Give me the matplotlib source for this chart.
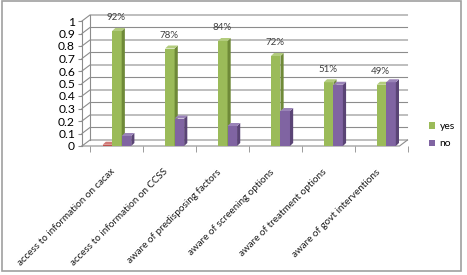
import matplotlib
matplotlib.use("Agg")
import matplotlib.pyplot as plt
from matplotlib.patches import Polygon, Rectangle
import numpy as np

categories = ["access to information on cacax", "access to information on CCSS",
              "aware of predisposing factors", "aware of screening options",
              "aware of treatment options", "aware of govt interventions"]
yes_vals = [0.92, 0.78, 0.84, 0.72, 0.51, 0.49]
no_vals = [0.08, 0.22, 0.16, 0.28, 0.49, 0.51]
other_vals = [0.01, 0, 0, 0, 0, 0]
yes_labels = ["92%", "78%", "84%", "72%", "51%", "49%"]

plt.rcParams['font.family'] = ['Lato', 'DejaVu Sans']

fig = plt.figure(figsize=(4.67, 2.75), dpi=100)
fig.patches.append(Rectangle((0.004, 0.015), 0.984, 0.98, transform=fig.transFigure,
                             fill=False, edgecolor='#a0a0a0', linewidth=1.2))
ax = fig.add_axes([82/467, 1-146/275, (408-82)/467, (146-14.75)/275])

x0, x1 = -0.66, 5.49
fx1 = 5.34
ddx, ddy = 0.15, 0.048
ax.set_xlim(x0, x1)
ax.set_ylim(0, 1.05)
for s in ax.spines.values():
    s.set_visible(False)

grid_c = '#8c8c8c'
ticks = np.round(np.arange(0, 1.01, 0.1), 1)
for v in ticks:
    ax.plot([x0, x0 + ddx, x1], [v, v + ddy, v + ddy], color=grid_c, lw=0.8,
            clip_on=False, zorder=1)
ax.plot([x0, x0], [0, 1], color=grid_c, lw=0.8, clip_on=False, zorder=1)
ax.plot([x0 + ddx, x0 + ddx], [ddy, 1 + ddy], color=grid_c, lw=0.8, clip_on=False, zorder=1)
ax.plot([x0, fx1, x1], [0, 0, ddy], color=grid_c, lw=0.8, clip_on=False, zorder=1)

ax.set_yticks(ticks)
ax.set_yticklabels([("%g" % t) for t in ticks], fontsize=8.7)
ax.tick_params(axis='y', length=3, color=grid_c, pad=2)

x = np.arange(len(categories))
ax.set_xticks(x)
ax.set_xticklabels([])
ax.tick_params(axis='x', length=0)
ax.set_xticks(np.arange(-0.5, len(categories)), minor=True)
ax.tick_params(axis='x', which='minor', length=4, color=grid_c)
for xi, lab in zip(x, categories):
    ax.text(xi - 0.12, -0.17, lab, rotation=45, ha='right', va='top',
            rotation_mode='anchor', fontsize=7.1, color='#1a1a1a')

w = 0.18
dx, dy = 0.06, 0.024

def bar3d(xc, h, face, side, top):
    ax.bar(xc, h, width=w, color=face, edgecolor='none', zorder=3)
    xl, xr = xc - w / 2, xc + w / 2
    ax.add_patch(Polygon([(xr, 0), (xr + dx, dy), (xr + dx, h + dy), (xr, h)],
                         closed=True, facecolor=side, edgecolor='none', zorder=3))
    ax.add_patch(Polygon([(xl, h), (xl + dx, h + dy), (xr + dx, h + dy), (xr, h)],
                         closed=True, facecolor=top, edgecolor='none', zorder=3))

for i in x:
    if other_vals[i] > 0:
        bar3d(i - w, other_vals[i], '#C0504D', '#8c3836', '#d07a77')
    bar3d(i, yes_vals[i], '#9BBB59', '#6f8a38', '#b3cc7e')
    bar3d(i + w, no_vals[i], '#8064A2', '#5a4475', '#9a83b8')
    ax.annotate(yes_labels[i], (i - 0.02, yes_vals[i] + dy), xytext=(0, 4),
                textcoords='offset points', ha='center', va='bottom',
                fontsize=7, color='#404040')

ax.bar([np.nan], [np.nan], color='#9BBB59', label='yes')
ax.bar([np.nan], [np.nan], color='#8064A2', label='no')
fig.legend(loc='upper left', bbox_to_anchor=(425/467, 1-118/275), frameon=False,
           fontsize=7.5, handlelength=0.6, handleheight=0.6, handletextpad=0.4,
           labelspacing=0.8, borderaxespad=0)

fig.savefig("out.png", dpi=100)
